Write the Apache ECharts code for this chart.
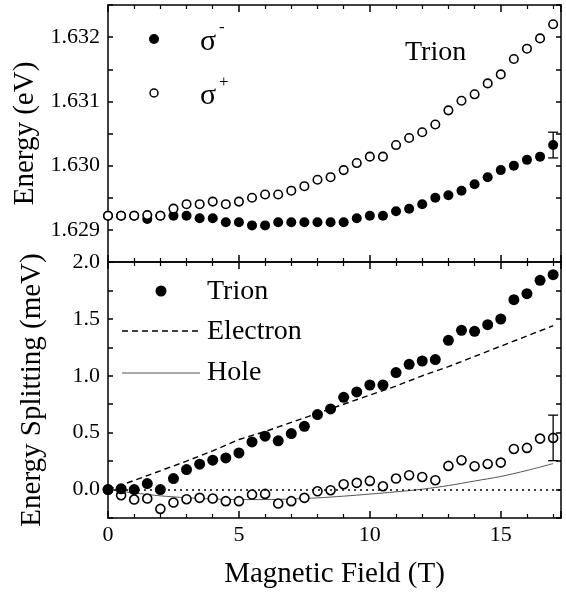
<!DOCTYPE html>
<html>
<head>
<meta charset="utf-8">
</head>
<body style="margin:0">
<div id="container" style="width:566px;height:593px"></div>
<script src="https://cdn.jsdelivr.net/npm/echarts@6/dist/echarts.min.js"></script>
<script>
var FONT = 'Liberation Serif';

// magnetic field (T)
var field = [0, 0.5, 1, 1.5, 2, 2.5, 3, 3.5, 4, 4.5, 5, 5.5, 6, 6.5, 7, 7.5, 8, 8.5,
    9, 9.5, 10, 10.5, 11, 11.5, 12, 12.5, 13, 13.5, 14, 14.5, 15, 15.5, 16, 16.5, 17];
// top panel, energy (eV)
var sigmaMinus = [1.62922, 1.62922, 1.62922, 1.62917, 1.62922, 1.62922, 1.62922, 1.62918, 1.62918,
    1.62912, 1.62912, 1.62907, 1.62907, 1.62912, 1.62912, 1.62912, 1.62912, 1.62912, 1.62912,
    1.62918, 1.62922, 1.62922, 1.62929, 1.62933, 1.62940, 1.62950, 1.62954, 1.62961, 1.62971,
    1.62982, 1.62993, 1.63000, 1.63009, 1.63014, 1.63032];
var sigmaPlus = [1.62922, 1.62922, 1.62922, 1.62923, 1.62922, 1.62933, 1.62940, 1.62940, 1.62944,
    1.62940, 1.62944, 1.62950, 1.62955, 1.62955, 1.62961, 1.62968, 1.62978, 1.62982, 1.62993,
    1.63004, 1.63014, 1.63014, 1.63032, 1.63043, 1.63052, 1.63064, 1.63086, 1.63101, 1.63111,
    1.63128, 1.63142, 1.63166, 1.63182, 1.63198, 1.63220];
// bottom panel, splitting (meV)
var trionSplit = [0, 0.006, 0, 0.053, 0, 0.097, 0.176, 0.223, 0.258, 0.278, 0.322, 0.419, 0.469,
    0.428, 0.492, 0.556, 0.659, 0.709, 0.811, 0.858, 0.919, 0.919, 1.028, 1.101, 1.130, 1.142,
    1.312, 1.400, 1.391, 1.449, 1.499, 1.669, 1.722, 1.839, 1.889];
var openSplit = [0, -0.050, -0.088, -0.079, -0.170, -0.114, -0.085, -0.073, -0.079, -0.102, -0.102,
    -0.044, -0.038, -0.123, -0.102, -0.073, -0.015, -0.006, 0.047, 0.059, 0.076, 0.029, 0.097,
    0.126, 0.111, 0.082, 0.208, 0.258, 0.205, 0.225, 0.237, 0.357, 0.366, 0.448, 0.454];
// model curves
var fitField = [0, 1, 2, 3, 4, 5, 6, 7, 8, 9, 10, 11, 12, 13, 14, 15, 16, 17];
var electron = [0, 0.08, 0.165, 0.25, 0.34, 0.44, 0.51, 0.59, 0.67, 0.75, 0.83, 0.91, 1.0, 1.08,
    1.17, 1.26, 1.35, 1.44];
var hole = [0, -0.03, -0.055, -0.072, -0.083, -0.088, -0.088, -0.083, -0.073, -0.058, -0.04, -0.02,
    0.003, 0.035, 0.075, 0.115, 0.168, 0.228];
// error bars: [field, value, half-width]
var errTop = [[17, 1.63032, 0.0002]];
var errBottom = [[17, 0.454, 0.2]];

function pairs(xs, ys) {
    return xs.map(function (x, i) { return [x, ys[i]]; });
}

var gridL = 108, gridR = 5;

function xAx(grid, pos, labels) {
    return {
        type: 'value', gridIndex: grid, position: pos, min: 0, max: 17.3, interval: 5,
        axisLine: { show: true, onZero: false, lineStyle: { color: '#000', width: 1.5 } },
        axisTick: { show: true, inside: true, length: 7, lineStyle: { color: '#000', width: 1.5 } },
        minorTick: { show: true, splitNumber: 5, length: 4, lineStyle: { color: '#000', width: 1.2 } },
        splitLine: { show: false },
        axisLabel: {
            show: labels, margin: 6, color: '#000', fontFamily: FONT, fontSize: 22,
            showMaxLabel: false
        },
        name: labels ? 'Magnetic Field (T)' : '',
        nameLocation: 'middle', nameGap: 42,
        nameTextStyle: { color: '#000', fontFamily: FONT, fontSize: 29 }
    };
}

function yAx(grid, pos, min, max, step, labelStep, digits, labels) {
    return {
        type: 'value', gridIndex: grid, position: pos, min: min, max: max, interval: step,
        axisLine: { show: true, onZero: false, lineStyle: { color: '#000', width: 1.5 } },
        axisTick: { show: true, inside: true, length: 5, lineStyle: { color: '#000', width: 1.5 } },
        splitLine: { show: false },
        axisLabel: {
            show: labels, margin: 8, color: '#000', fontFamily: FONT, fontSize: 22,
            formatter: function (v) {
                var k = v / labelStep;
                if (Math.abs(k - Math.round(k)) > 1e-6) return '';
                return v.toFixed(digits);
            }
        }
    };
}

var dom = document.getElementById('container');
var myChart = echarts.init(dom, null, { renderer: 'canvas' });

var errStyle = function (params, api) {
    var x = api.value(0), y = api.value(1), e = api.value(2);
    var hi = api.coord([x, y + e]);
    var lo = api.coord([x, y - e]);
    var s = { stroke: '#000', lineWidth: 1.3 };
    return {
        type: 'group',
        children: [
            { type: 'line', shape: { x1: hi[0], y1: hi[1], x2: lo[0], y2: lo[1] }, style: s },
            { type: 'line', shape: { x1: hi[0] - 5, y1: hi[1], x2: hi[0] + 5, y2: hi[1] }, style: s },
            { type: 'line', shape: { x1: lo[0] - 5, y1: lo[1], x2: lo[0] + 5, y2: lo[1] }, style: s }
        ]
    };
};

var txt = function (x, y, text, size, extra) {
    var o = {
        type: 'text', x: x, y: y,
        style: { text: text, fill: '#000', font: size + 'px "' + FONT + '"', textVerticalAlign: 'middle' }
    };
    if (extra) Object.assign(o.style, extra);
    return o;
};

var option = {
    animation: false,
    backgroundColor: '#fff',
    grid: [
        { left: gridL, right: gridR, top: 5, height: 257 },
        { left: gridL, right: gridR, top: 262, height: 256 }
    ],
    xAxis: [
        xAx(0, 'bottom', false),
        xAx(0, 'top', false),
        xAx(1, 'bottom', true),
        xAx(1, 'top', false)
    ],
    yAxis: [
        Object.assign(yAx(0, 'left', 1.6285, 1.6325, 0.0005, 0.001, 3, true), {
            name: 'Energy (eV)', nameLocation: 'middle', nameGap: 61,
            nameTextStyle: { color: '#000', fontFamily: FONT, fontSize: 29 }
        }),
        yAx(0, 'right', 1.6285, 1.6325, 0.0005, 0.001, 3, false),
        Object.assign(yAx(1, 'left', -0.25, 2.0, 0.25, 0.5, 1, true), {
            name: 'Energy Splitting (meV)', nameLocation: 'middle', nameGap: 61,
            nameTextStyle: { color: '#000', fontFamily: FONT, fontSize: 29 }
        }),
        yAx(1, 'right', -0.25, 2.0, 0.25, 0.5, 1, false)
    ],
    series: [
        {
            type: 'scatter', name: 'σ-', xAxisIndex: 0, yAxisIndex: 0, z: 2,
            symbol: 'circle', symbolSize: 10,
            itemStyle: { color: '#000', opacity: 1 },
            data: pairs(field, sigmaMinus)
        },
        {
            type: 'scatter', name: 'σ+', xAxisIndex: 0, yAxisIndex: 0, z: 3,
            symbol: 'circle', symbolSize: 8.5,
            itemStyle: { color: '#fff', borderColor: '#000', borderWidth: 1.6, opacity: 1 },
            data: pairs(field, sigmaPlus)
        },
        {
            type: 'custom', xAxisIndex: 0, yAxisIndex: 0, z: 4,
            renderItem: errStyle, data: errTop
        },
        {
            type: 'line', name: 'Electron', xAxisIndex: 2, yAxisIndex: 2, z: 1,
            symbol: 'none', lineStyle: { color: '#000', width: 1.4, type: [6, 4] },
            data: pairs(fitField, electron),
            markLine: {
                silent: true, symbol: 'none', label: { show: false },
                lineStyle: { color: '#000', width: 1.6, type: [2, 4] },
                data: [{ yAxis: 0 }]
            }
        },
        {
            type: 'line', name: 'Hole', xAxisIndex: 2, yAxisIndex: 2, z: 1,
            symbol: 'none', smooth: 0.3, lineStyle: { color: '#555', width: 1 },
            data: pairs(fitField, hole)
        },
        {
            type: 'scatter', name: 'open', xAxisIndex: 2, yAxisIndex: 2, z: 2,
            symbol: 'circle', symbolSize: 9,
            itemStyle: { color: '#fff', borderColor: '#000', borderWidth: 1.6, opacity: 1 },
            data: pairs(field, openSplit)
        },
        {
            type: 'scatter', name: 'Trion', xAxisIndex: 2, yAxisIndex: 2, z: 3,
            symbol: 'circle', symbolSize: 11,
            itemStyle: { color: '#000', opacity: 1 },
            data: pairs(field, trionSplit)
        },
        {
            type: 'custom', xAxisIndex: 2, yAxisIndex: 2, z: 4,
            renderItem: errStyle, data: errBottom
        }
    ],
    graphic: [
        // top legend
        { type: 'circle', shape: { cx: 154, cy: 39, r: 5 }, style: { fill: '#000' } },
        txt(200, 42, 'σ', 30),
        txt(219, 28, '-', 17),
        { type: 'circle', shape: { cx: 154, cy: 93, r: 4 }, style: { fill: '#fff', stroke: '#000', lineWidth: 1.5 } },
        txt(200, 96, 'σ', 30),
        txt(219, 83, '+', 17),
        txt(405, 53, 'Trion', 28),
        // bottom legend
        { type: 'circle', shape: { cx: 161, cy: 291, r: 5.5 }, style: { fill: '#000' } },
        txt(207, 292, 'Trion', 28),
        { type: 'line', shape: { x1: 122, y1: 331, x2: 200, y2: 331 }, style: { stroke: '#000', lineWidth: 1.4, lineDash: [6, 4] } },
        txt(207, 332, 'Electron', 28),
        { type: 'line', shape: { x1: 122, y1: 373, x2: 200, y2: 373 }, style: { stroke: '#555', lineWidth: 1 } },
        txt(207, 373, 'Hole', 28)
    ]
};

myChart.setOption(option);
window.addEventListener('resize', myChart.resize);
</script>
</body>
</html>
